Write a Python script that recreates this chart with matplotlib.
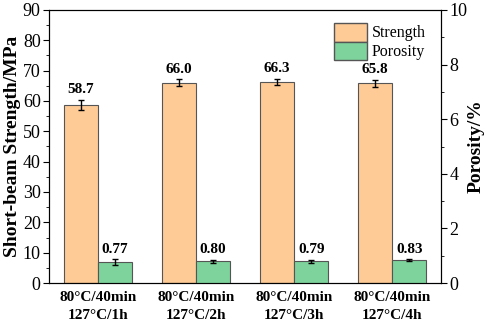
import numpy as np
import matplotlib.pyplot as plt
from matplotlib.ticker import MultipleLocator
from matplotlib.patches import Patch

plt.rcParams['font.family'] = ['Liberation Serif', 'DejaVu Serif']

# data
groups = ["80°C/40min\n127°C/1h", "80°C/40min\n127°C/2h",
          "80°C/40min\n127°C/3h", "80°C/40min\n127°C/4h"]
strength = [58.7, 66.0, 66.3, 65.8]
strength_err = [1.6, 1.2, 1.0, 1.2]
porosity = [0.77, 0.80, 0.79, 0.83]
porosity_err = [0.10, 0.06, 0.07, 0.04]

c_str = "#FECB96"
c_por = "#7DD39B"

x = np.arange(1, len(groups) + 1)
w = 0.35

fig = plt.figure(figsize=(4.84, 3.23), dpi=100)
ax = fig.add_axes([49 / 484, 40 / 323, 392 / 484, 273 / 323])
ax2 = ax.twinx()

ax.bar(x - w / 2, strength, w, color=c_str, edgecolor="#555555", linewidth=0.8,
       yerr=strength_err, capsize=2.5, error_kw=dict(elinewidth=1, capthick=1, ecolor="black"))
ax2.bar(x + w / 2, porosity, w, color=c_por, edgecolor="#555555", linewidth=0.8,
        yerr=porosity_err, capsize=2.5, error_kw=dict(elinewidth=1, capthick=1, ecolor="black"))

for xi, v, e in zip(x, strength, strength_err):
    ax.text(xi - w / 2, v + e + 1.2, f"{v:.1f}", ha="center", va="bottom",
            fontsize=11, fontweight="bold")
for xi, v, e in zip(x, porosity, porosity_err):
    ax2.text(xi + w / 2, v + e + 0.13, f"{v:.2f}", ha="center", va="bottom",
             fontsize=11, fontweight="bold")

ax.set_xlim(0.5, 4.5)
ax.set_ylim(0, 90)
ax2.set_ylim(0, 10)
ax.set_xticks(x)
ax.set_xticklabels(groups, fontsize=11, fontweight="bold", linespacing=1.5)
ax.tick_params(axis="x", length=0, pad=6)

ax.yaxis.set_major_locator(MultipleLocator(10))
ax.yaxis.set_minor_locator(MultipleLocator(5))
ax2.yaxis.set_major_locator(MultipleLocator(2))
ax2.yaxis.set_minor_locator(MultipleLocator(1))
ax.tick_params(axis="y", which="major", labelsize=13, length=4, direction="out", pad=2)
ax.tick_params(axis="y", which="minor", length=2.5, direction="out")
ax2.tick_params(axis="y", which="major", labelsize=13, length=4, direction="out", pad=2)
ax2.tick_params(axis="y", which="minor", length=2.5, direction="out")

ax.set_ylabel("Short-beam Strength/MPa", fontsize=14, fontweight="bold", labelpad=1)
ax2.set_ylabel("Porosity/%", fontsize=14, fontweight="bold", labelpad=0)

handles = [Patch(facecolor=c_str, edgecolor="#555555", label="Strength"),
           Patch(facecolor=c_por, edgecolor="#555555", label="Porosity")]
ax2.legend(handles=handles, loc="upper right", frameon=False, fontsize=11.5,
           handlelength=2.1, handleheight=1.45, handletextpad=0.3, labelspacing=0.0,
           borderaxespad=0.3, bbox_to_anchor=(0.99, 0.995))

fig.savefig("out.png", dpi=100)
